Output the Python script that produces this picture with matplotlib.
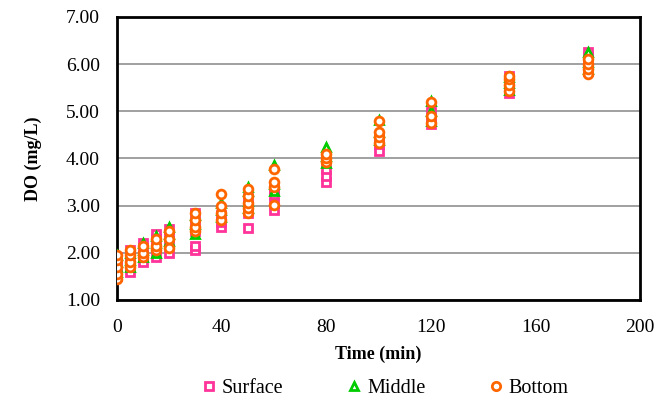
import matplotlib
matplotlib.use("Agg")
import matplotlib.pyplot as plt
from matplotlib.lines import Line2D

times = [0, 5, 10, 15, 20, 30, 40, 50, 60, 80, 100, 120, 150, 180]

surface = [
    [1.50, 1.60, 1.70, 1.80, 1.90],
    [1.60, 1.75, 1.90, 2.05],
    [1.80, 1.95, 2.10, 2.20],
    [1.90, 2.10, 2.30, 2.40],
    [2.00, 2.20, 2.35, 2.50],
    [2.05, 2.15, 2.45, 2.60, 2.85],
    [2.55, 2.65, 2.80],
    [2.52, 2.85, 3.00, 3.15],
    [2.90, 3.05, 3.25, 3.35],
    [3.50, 3.62, 3.78],
    [4.15, 4.30, 4.45],
    [4.72, 4.85, 5.00],
    [5.38, 5.50, 5.65, 5.75],
    [5.85, 6.00, 6.15, 6.25],
]
middle = [
    [1.60, 1.70, 1.80, 1.95],
    [1.70, 1.85, 2.00],
    [1.90, 2.05, 2.20],
    [2.00, 2.20, 2.35],
    [2.25, 2.40, 2.55],
    [2.40, 2.60, 2.80],
    [2.75, 2.90, 3.05],
    [2.95, 3.10, 3.30, 3.40],
    [3.30, 3.45, 3.85],
    [3.90, 4.05, 4.25],
    [4.40, 4.55, 4.82],
    [4.80, 5.00, 5.22],
    [5.45, 5.60, 5.72],
    [5.90, 6.05, 6.25],
]
bottom = [
    [1.45, 1.55, 1.70, 1.85, 1.95],
    [1.70, 1.80, 1.95, 2.05],
    [1.90, 2.00, 2.15],
    [2.05, 2.15, 2.30],
    [2.10, 2.30, 2.45],
    [2.45, 2.55, 2.70, 2.85],
    [2.70, 2.85, 3.00, 3.25],
    [2.85, 2.95, 3.05, 3.20, 3.35],
    [3.02, 3.40, 3.50, 3.78],
    [3.92, 4.00, 4.10],
    [4.33, 4.45, 4.57, 4.79],
    [4.75, 4.90, 5.20],
    [5.42, 5.55, 5.68, 5.75],
    [5.80, 5.90, 6.00, 6.10],
]

series_names = ["Surface", "Middle", "Bottom"]
x_ticks = [0, 40, 80, 120, 160, 200]
y_ticks = [1.00, 2.00, 3.00, 4.00, 5.00, 6.00, 7.00]

plt.rcParams['font.family'] = ['Liberation Serif', 'DejaVu Serif']

fig = plt.figure(figsize=(6.56, 4.03), dpi=100)
ax = fig.add_axes([0.178, 0.256, 0.798, 0.702])

styles = [
    dict(marker='s', color='#FF3399'),
    dict(marker='^', color='#00CC00'),
    dict(marker='o', color='#FF6600'),
]

for name, data, st in zip(series_names, [surface, middle, bottom], styles):
    xs, ys = [], []
    for t, vals in zip(times, data):
        for v in vals:
            xs.append(t)
            ys.append(v)
    ax.plot(xs, ys, linestyle='none', marker=st['marker'], markersize=6.3,
            markerfacecolor='white', markeredgecolor=st['color'],
            markeredgewidth=2.0, label=name, zorder=3)

ax.set_xlim(0, 200)
ax.set_ylim(1, 7)
ax.set_xticks(x_ticks)
ax.set_yticks(y_ticks)
ax.set_yticklabels([f"{v:.2f}" for v in y_ticks])
ax.tick_params(axis='y', length=0, labelsize=14, pad=12)
ax.tick_params(axis='x', length=0, labelsize=14, pad=14)
ax.yaxis.grid(True, color='#999999', linewidth=1.3)
ax.set_axisbelow(True)
for s in ax.spines.values():
    s.set_color('black')
    s.set_linewidth(2)

ax.set_xlabel("Time (min)", fontsize=13, fontweight='bold', labelpad=7)
ax.set_ylabel("DO (mg/L)", fontsize=13, fontweight='bold', labelpad=17)

handles = [Line2D([], [], linestyle='none', marker=st['marker'], markersize=6,
                  markerfacecolor='white', markeredgecolor=st['color'],
                  markeredgewidth=2) for st in styles]
fig.legend(handles, series_names, loc='center', bbox_to_anchor=(0.585, 0.037),
           ncol=3, frameon=False, fontsize=14.5, handletextpad=0.15,
           columnspacing=3.0, handlelength=1.0)

fig.savefig("out.png", dpi=100)
